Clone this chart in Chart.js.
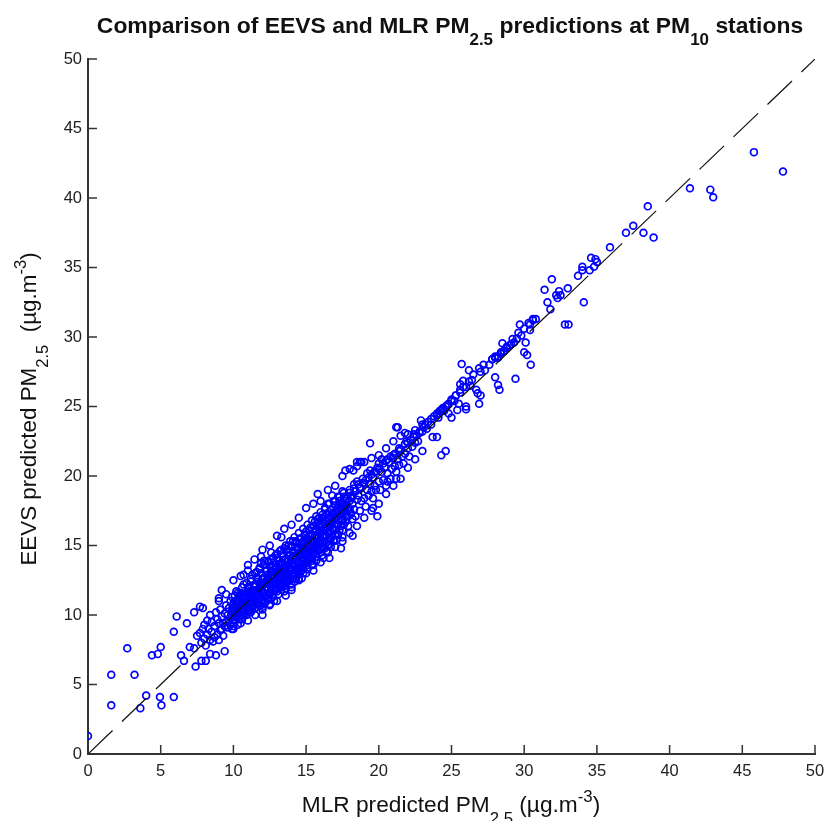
<!DOCTYPE html>
<html><head><meta charset="utf-8">
<style>html,body{margin:0;padding:0;background:#fff;overflow:hidden}#w{width:826px;height:821px;position:relative}</style>
<script src="https://cdn.jsdelivr.net/npm/chart.js@4"></script></head>
<body><div id="w"><canvas id="c" width="826" height="821"></canvas></div>
<script>
const titleParts=[["Comparison of EEVS and MLR PM",0],["2.5",1],[" predictions at PM",0],["10",1],[" stations",0]];
const xLabelParts=[["MLR predicted PM",0],["2.5",1],[" (µg.m",0],["-3",-1],[")",0]];
const yLabelParts=[["EEVS predicted PM",0],["2.5",1],["  (µg.m",0],["-3",-1],[")",0]];
const xTicks=[0,5,10,15,20,25,30,35,40,45,50];
const yTicks=[0,5,10,15,20,25,30,35,40,45,50];
const refX=[0,50];
const refY=[0,50];
const mlrOutliers=[0,1.6,1.6,2.7,3.2,3.6,4.0,4.95,5.05,5.9,4.4,4.8,5.0,6.1,5.9,6.8,6.4,6.6,7.0,7.3,7.4,7.8,8.1,8.4,8.8,9.4,
45.8,47.8,41.4,42.8,43.0,38.5,37.5,37.0,38.2,38.9,35.9,34.6,34.9,35.0,34.8,34.5,34.0,34.0,33.7,31.9,31.4,33.0,32.4,32.5,32.3,31.6,34.1,32.8,33.05,
29.7,30.6,30.8,30.0,30.4,30.4,30.1,29.6,29.2,28.5,30.0,30.2,30.45,29.4,28.2,28.3,26.9,26.0,25.4,25.7,26.2,26.5,26.9,27.2,25.8,25.6,26.3,26.7,26.8,
24.6,24.3,21.3,19.4,22.9,21.8,23.7,21.2,17.7,15.8,15.0,13.3,11.45,11.9,12.6,10.7,11.0,9.2,9.0,7.3,7.7,7.9,
19.9,19.6,18.2,17.4,16.6,16.2,15.5,14.7,14.3,14.0,13.6,12.0,21.2,20.6,18.5,18.7,18.8,18.25];
const eevsOutliers=[1.3,3.5,5.7,7.6,5.7,3.3,4.2,4.1,3.5,4.1,7.1,7.2,7.7,9.9,8.8,9.4,7.1,6.7,7.7,7.6,6.3,6.7,6.7,7.2,7.1,7.4,
43.3,41.9,40.7,40.6,40.05,39.4,38.0,37.5,37.5,37.15,36.45,35.7,35.6,35.4,35.05,34.8,35.05,34.8,34.4,34.15,33.4,33.5,33.3,33.0,32.8,32.5,32.5,30.9,30.9,
30.9,31.3,31.3,30.6,30.9,30.5,29.6,30.3,29.85,29.55,28.9,28.7,28.0,27.0,26.55,26.2,25.2,24.8,24.75,28.05,27.6,27.3,27.75,28.0,26.85,26.6,26.5,26.2,25.95,
21.8,21.5,23.5,22.35,24.0,23.1,22.8,23.5,20.4,18.7,17.7,15.6,14.0,14.2,14.5,12.9,13.2,11.8,11.2,10.2,10.6,10.5,
17.1,17.7,15.7,14.8,14.1,14.1,13.6,12.65,12.65,11.8,11.4,10.0,19.8,19.6,21.0,21.0,21.0,20.4];
const mlrEdge=[17,17.5,18,18.5,19,16.5,16,15.5,14.5,14,13.5,13,12.5,12,11,10.5,10,9.5,9,19.5,20,20.5,21,21.5,22,22.5,23,
10,10.5,11,11.5,12,12.5,13,13.5,14,14.5,15,15.5,16,16.5,17,17.5,18,18.5,19,19.5,20,20.5,21,21.5,22,22.5,23,24,25,26,27,28];
const eevsEdge=[19.3,20,20.5,20.7,21,19,18.2,18,17,16.5,16.2,15.7,15,14.7,13.6,12.8,12.5,11.5,11,21.3,21.5,22,22.5,22.9,23,23.3,23.7,
9,9.4,9.6,10,10.4,10.7,11,11.7,12,12.5,13,13.2,13.8,14.5,14.9,15.3,15.9,16.4,17,17.5,18,18.7,19.3,19.8,20.6,21.2,21.8,22.8,24.2,25,25.8,27.1];
const mlrCluster=[
7.5,7.7,7.8,7.9,8.0,8.0,8.1,8.2,8.2,8.3,
8.4,8.4,8.5,8.5,8.6,8.7,8.7,8.8,8.9,8.9,
9.0,9.0,9.1,9.1,9.2,9.2,9.3,9.3,9.4,9.4,
9.5,9.5,9.6,9.6,9.7,9.7,9.8,9.8,9.9,9.9,
10.0,10.0,10.1,10.1,10.2,10.2,10.3,10.3,10.4,10.4,
10.5,10.5,10.6,10.6,10.7,10.7,10.8,10.8,10.9,10.9,
11.0,11.0,11.0,11.1,11.1,11.1,11.2,11.2,11.2,11.3,
11.3,11.3,11.4,11.4,11.4,11.5,11.5,11.5,11.6,11.6,
11.6,11.7,11.7,11.7,11.8,11.8,11.8,11.9,11.9,11.9,
12.0,12.0,12.0,12.1,12.1,12.1,12.2,12.2,12.2,12.3,
12.3,12.3,12.4,12.4,12.4,12.5,12.5,12.5,12.6,12.6,
12.6,12.7,12.7,12.7,12.8,12.8,12.8,12.9,12.9,12.9,
13.0,13.0,13.0,13.0,13.1,13.1,13.1,13.2,13.2,13.2,
13.3,13.3,13.3,13.4,13.4,13.4,13.4,13.5,13.5,13.5,
13.6,13.6,13.6,13.7,13.7,13.7,13.7,13.8,13.8,13.8,
13.9,13.9,13.9,14.0,14.0,14.0,14.0,14.1,14.1,14.1,
14.2,14.2,14.2,14.2,14.3,14.3,14.3,14.4,14.4,14.4,
14.5,14.5,14.5,14.5,14.6,14.6,14.6,14.7,14.7,14.7,
14.8,14.8,14.8,14.8,14.9,14.9,14.9,15.0,15.0,15.0,
15.1,15.1,15.1,15.1,15.2,15.2,15.2,15.3,15.3,15.3,
15.4,15.4,15.4,15.4,15.5,15.5,15.5,15.6,15.6,15.6,
15.7,15.7,15.7,15.7,15.8,15.8,15.8,15.9,15.9,15.9,
16.0,16.0,16.0,16.1,16.1,16.1,16.1,16.2,16.2,16.2,
16.3,16.3,16.3,16.4,16.4,16.4,16.5,16.5,16.5,16.6,
16.6,16.6,16.7,16.7,16.7,16.8,16.8,16.8,16.9,16.9,
17.0,17.0,17.0,17.1,17.1,17.2,17.2,17.2,17.3,17.3,
17.4,17.4,17.5,17.5,17.5,17.6,17.6,17.7,17.7,17.8,
17.8,17.9,17.9,18.0,18.0,18.1,18.1,18.2,18.2,18.3,
18.3,18.4,18.4,18.5,18.5,18.6,18.7,18.7,18.8,18.9,
19.0,19.0,19.1,19.2,19.2,19.3,19.4,19.4,19.5,19.6,
19.6,19.7,19.8,19.8,19.9,20.0,20.0,20.1,20.2,20.2,
20.3,20.4,20.5,20.5,20.6,20.7,20.8,20.8,20.9,21.0,
21.1,21.1,21.2,21.3,21.4,21.4,21.5,21.6,21.7,21.8,
21.8,21.9,22.0,22.1,22.2,22.3,22.4,22.5,22.6,22.7,
22.8,23.0,23.1,23.3,23.4,23.6,23.8,24.0,24.1,24.3,
24.4,24.5,24.7,24.8,25.0,25.2,25.3,25.5,25.6,25.8,
26.0,26.2,26.4,27.0,27.3,27.6,27.8,28.0,28.2,28.4,
28.6,28.8,29.0,29.3,29.5,29.8,30.3,30.6,31.8,32.2];
const eevsCluster=[
8.5,8.7,8.0,9.0,8.3,9.3,7.8,8.6,9.6,9.0,
8.2,10.0,8.8,9.5,8.1,9.2,8.4,10.2,8.6,9.7,
8.2,9.4,8.9,10.4,9.0,9.9,9.4,8.5,10.1,9.2,
9.5,10.7,9.1,10.0,9.6,10.5,9.3,11.0,9.9,10.3,
9.6,10.8,10.2,11.4,9.9,11.0,10.5,11.6,10.1,10.9,
11.3,10.4,10.0,11.1,10.7,12.2,10.3,11.5,11.0,10.6,
10.5,11.4,12.0,10.9,11.7,10.2,11.1,12.4,10.6,11.5,
10.4,12.9,11.0,11.8,10.7,11.3,12.2,10.5,11.6,13.1,
10.9,11.4,12.6,10.8,11.9,13.4,11.2,12.3,10.7,13.7,
11.5,12.1,10.6,11.0,12.7,13.9,11.8,12.4,10.9,11.4,
12.0,13.2,11.1,12.6,13.8,11.6,12.2,10.8,12.9,11.9,
14.0,11.3,12.4,13.5,11.7,12.9,11.0,12.2,13.3,14.3,
12.0,12.6,13.1,14.1,11.5,12.3,13.6,12.0,12.8,14.6,
12.5,13.2,11.8,13.7,12.3,12.9,14.2,12.1,13.4,14.8,
12.7,13.3,11.9,13.9,12.4,13.0,14.5,12.8,13.6,15.0,
12.6,13.4,14.3,12.9,13.7,14.9,12.2,13.2,14.1,15.3,
13.0,13.6,14.5,12.4,13.3,14.0,15.2,13.1,13.8,14.7,
13.4,14.2,15.1,12.6,13.7,14.4,15.5,13.2,14.0,14.9,
13.6,14.3,15.3,13.0,13.9,14.7,15.7,14.2,15.0,16.0,
13.9,14.6,15.5,13.3,14.1,15.0,16.1,14.4,15.3,16.3,
14.1,14.9,15.8,13.6,14.5,15.3,16.4,14.8,15.7,16.7,
14.4,15.2,16.1,13.9,14.8,15.6,16.9,15.1,16.0,17.0,
14.7,15.5,16.6,14.3,15.2,16.0,17.2,14.9,15.8,16.9,
15.3,16.2,17.6,14.6,15.7,16.8,15.0,16.3,18.0,15.5,
16.5,17.4,14.9,16.0,17.1,15.7,16.7,18.6,15.3,17.3,
16.1,17.0,18.2,15.4,16.6,16.8,17.8,15.8,17.2,18.5,
16.4,17.6,16.9,18.0,15.6,17.3,18.8,16.7,17.9,17.1,
18.4,16.4,17.7,18.2,19.0,17.3,18.6,16.9,18.0,19.4,
17.6,18.9,17.1,18.3,19.6,18.6,17.5,19.1,18.2,19.8,
18.4,19.5,17.8,19.0,20.2,18.6,19.4,20.4,18.9,19.9,
18.4,19.3,20.3,19.0,20.6,19.6,20.9,19.0,20.3,21.2,
19.7,20.6,19.3,21.1,20.2,21.0,19.8,21.4,20.5,21.3,
20.7,21.6,20.3,21.2,21.8,20.8,21.9,21.4,20.9,22.3,
21.6,22.5,22.0,21.4,22.6,22.1,23.0,22.4,22.9,22.5,
23.1,23.2,23.5,23.4,23.9,23.7,24.3,24.4,24.2,24.7,
24.8,24.7,25.1,24.5,25.5,25.4,25.8,25.2,26.2,26.4,
26.4,26.8,26.9,27.5,27.6,28.0,28.4,28.6,28.5,28.9,
29.0,29.3,29.4,29.6,29.9,30.1,31.0,31.2,32.0,33.0];
const mlrCore=[
9.9,10.0,10.1,9.9,10.0,10.2,10.1,9.9,10.0,10.2,
10.3,10.4,10.2,10.3,10.5,10.3,10.4,10.2,10.5,10.3,
10.6,10.7,10.5,10.6,10.8,10.7,10.5,10.6,10.8,10.7,
10.9,11.0,10.9,11.1,10.9,11.0,11.1,10.9,11.0,11.1,
11.2,11.3,11.2,11.4,11.2,11.3,11.4,11.2,11.3,11.4,
11.5,11.6,11.5,11.7,11.6,11.5,11.7,11.6,11.5,11.7,
11.8,11.9,11.8,12.0,11.9,11.8,12.0,11.9,11.8,12.0,
12.1,12.2,12.1,12.3,12.2,12.1,12.3,12.2,12.1,12.3,
12.4,12.5,12.4,12.6,12.5,12.4,12.6,12.5,12.4,12.6,
12.7,12.8,12.7,12.9,12.8,12.7,12.9,12.8,12.7,12.9,
13.0,13.1,13.0,13.2,13.1,13.0,13.2,13.1,13.0,13.2,
13.3,13.4,13.3,13.5,13.4,13.3,13.5,13.4,13.3,13.5,
13.6,13.7,13.6,13.8,13.7,13.6,13.8,13.7,13.6,13.8,
13.9,14.0,13.9,14.1,14.0,13.9,14.1,14.0,13.9,14.1,
14.2,14.3,14.2,14.4,14.3,14.2,14.4,14.3,14.2,14.4,
14.5,14.6,14.5,14.7,14.6,14.5,14.7,14.6,14.5,14.7,
14.8,14.9,14.8,15.0,14.9,14.8,15.0,14.9,14.8,15.0,
15.1,15.2,15.1,15.3,15.2,15.1,15.3,15.2,15.1,15.3,
15.4,15.5,15.4,15.6,15.5,15.4,15.6,15.5,15.4,15.6,
15.7,15.8,15.7,15.9,15.8,15.7,15.9,15.8,15.7,15.9,
16.0,16.1,16.0,16.2,16.1,16.0,16.2,16.1,16.0,16.2,
16.3,16.4,16.3,16.5,16.4,16.3,16.5,16.4,16.3,16.5,
16.6,16.7,16.6,16.8,16.7,16.6,16.8,16.7,16.6,16.8,
16.9,17.0,16.9,17.1,17.0,16.9,17.1,17.0,16.9,17.1,
17.2,17.3,17.2,17.4,17.3,17.2,17.4,17.3,17.2,17.4,
17.5,17.6,17.5,17.7,17.6,17.5,17.7,17.6,17.5,17.7,
17.9,18.0,17.8,18.1,18.0,18.2,18.3,18.4,18.6,18.7,
18.9,19.1,19.3,19.5,19.7,20.0,20.3,20.6,21.0,21.4,
22.0,22.4,22.8,23.2,23.6,24.0,24.2,24.4,24.6,24.8,
25.0,25.3,25.6,27.8,28.0,28.2,28.4,28.6,28.8,29.1];
const eevsCore=[
9.0,9.4,9.7,10.2,10.5,10.8,11.0,11.3,9.2,10.0,
9.3,9.7,10.1,10.4,10.7,11.1,11.4,11.7,10.0,10.9,
9.7,10.0,10.3,10.7,11.0,11.3,11.6,12.0,11.5,10.5,
10.0,10.3,10.6,10.9,11.3,11.6,12.0,12.3,10.8,11.2,
10.2,10.6,10.9,11.2,11.5,11.8,12.1,12.6,11.1,11.6,
10.5,10.8,11.1,11.4,11.8,12.1,12.4,12.7,13.0,11.7,
10.7,11.0,11.4,11.7,12.0,12.3,12.6,13.0,13.3,12.2,
11.0,11.3,11.6,12.0,12.3,12.6,12.9,13.2,13.6,12.5,
11.2,11.5,11.9,12.2,12.5,12.8,13.2,13.5,13.9,12.7,
11.5,11.8,12.1,12.5,12.8,13.1,13.4,13.8,14.1,13.0,
11.7,12.1,12.4,12.7,13.1,13.4,13.7,14.0,14.4,13.3,
12.0,12.3,12.7,13.0,13.4,13.7,14.0,14.4,14.7,13.5,
12.3,12.6,13.0,13.3,13.6,14.0,14.3,14.7,15.0,13.9,
12.5,12.9,13.2,13.6,13.9,14.3,14.6,15.0,15.3,14.2,
12.8,13.2,13.5,13.9,14.2,14.5,14.9,15.3,15.6,14.4,
13.1,13.4,13.8,14.1,14.5,14.8,15.2,15.5,15.9,14.7,
13.4,13.7,14.1,14.4,14.8,15.1,15.5,15.8,16.2,15.0,
13.6,14.0,14.4,14.7,15.1,15.4,15.8,16.1,16.5,15.3,
13.9,14.3,14.7,15.0,15.4,15.7,16.1,16.4,16.8,15.6,
14.2,14.6,15.0,15.3,15.7,16.0,16.4,16.7,17.1,15.9,
14.5,14.9,15.3,15.6,16.0,16.3,16.7,17.0,17.4,16.2,
14.8,15.2,15.6,15.9,16.3,16.6,17.0,17.3,17.7,16.5,
15.1,15.5,15.9,16.2,16.6,16.9,17.3,17.6,18.0,16.8,
15.4,15.8,16.2,16.5,16.9,17.2,17.6,17.9,18.2,17.1,
15.8,16.1,16.5,16.8,17.2,17.5,17.9,18.2,18.5,17.4,
16.1,16.5,16.8,17.2,17.5,17.9,18.2,18.5,18.9,17.7,
17.1,17.6,17.9,18.4,18.8,18.5,19.1,18.9,19.4,19.2,
19.5,19.7,19.9,20.1,20.3,20.5,20.9,21.2,21.5,22.0,
22.4,22.8,23.2,23.7,24.1,24.5,24.7,24.9,25.0,25.2,
25.4,25.8,26.0,28.4,28.5,28.6,28.8,29.0,29.2,29.5];
const allMlr=mlrCore.concat(mlrCluster,mlrEdge,mlrOutliers);
const allEevs=eevsCore.concat(eevsCluster,eevsEdge,eevsOutliers);
const richLabels={
 id:'richLabels',
 afterDraw(chart){
  const ctx=chart.ctx;
  function draw(parts,cx,cy,size,bold,rot){
   const f=s=>(bold?'bold ':'')+s+'px "Liberation Sans"';
   ctx.save();ctx.translate(cx,cy);ctx.rotate(rot);
   ctx.fillStyle='#111';ctx.textBaseline='alphabetic';ctx.textAlign='left';
   let w=0;parts.forEach(p=>{ctx.font=f(p[1]?size*0.74:size);w+=ctx.measureText(p[0]).width});
   let x=-w/2;
   parts.forEach(p=>{const s=p[1]?size*0.74:size;ctx.font=f(s);
     ctx.fillText(p[0],x,p[1]>0?size*0.55:p[1]<0?-size*0.44:0);x+=ctx.measureText(p[0]).width});
   ctx.restore();
  }
  draw(titleParts,450,32.5,22.9,true,0);
  draw(xLabelParts,451,811.5,22.7,false,0);
  draw(yLabelParts,36,409,22.4,false,-Math.PI/2);
  const xs=chart.scales.x,ys=chart.scales.y,bx=chart.chartArea.left,by=chart.chartArea.bottom;
  ctx.save();ctx.strokeStyle='#333';ctx.lineWidth=1.5;ctx.beginPath();
  xTicks.forEach(v=>{const p=xs.getPixelForValue(v);ctx.moveTo(p,by);ctx.lineTo(p,by-9)});
  yTicks.forEach(v=>{const p=ys.getPixelForValue(v);ctx.moveTo(bx,p);ctx.lineTo(bx+9,p)});
  ctx.stroke();ctx.restore();
 }
};
new Chart(document.getElementById('c'),{
 type:'scatter',
 data:{datasets:[
  {type:'line',data:refX.map((v,i)=>({x:v,y:refY[i]})),borderColor:'#111',borderWidth:1.2,borderDash:[34,13],pointRadius:0,fill:false,tension:0},
  {data:allMlr.map((v,i)=>({x:v,y:allEevs[i]})),borderColor:'#0000ff',backgroundColor:'rgba(0,0,0,0)',borderWidth:1.7,pointRadius:3.4,pointHoverRadius:3.4}
 ]},
 plugins:[richLabels],
 options:{
  responsive:false,animation:false,events:[],
  layout:{padding:{left:0,right:11,top:59,bottom:0}},
  plugins:{legend:{display:false},title:{display:false},tooltip:{enabled:false}},
  scales:{
   x:{type:'linear',min:0,max:50,afterFit(s){s.height=67;s.paddingRight=0;s.paddingLeft=0},afterBuildTicks(s){s.ticks=xTicks.map(v=>({value:v}))},
    grid:{drawOnChartArea:false,drawTicks:false},
    border:{display:true,color:'#333',width:2},
    ticks:{autoSkip:false,maxRotation:0,padding:8,color:'#222',font:{family:'"Liberation Sans"',size:16.5}}},
   y:{type:'linear',min:0,max:50,afterFit(s){s.width=88;s.paddingTop=0;s.paddingBottom=0},afterBuildTicks(s){s.ticks=yTicks.map(v=>({value:v}))},
    grid:{drawOnChartArea:false,drawTicks:false},
    border:{display:true,color:'#333',width:2},
    ticks:{autoSkip:false,padding:6,color:'#222',font:{family:'"Liberation Sans"',size:16.5}}}
  }
 }
});
</script></body></html>
